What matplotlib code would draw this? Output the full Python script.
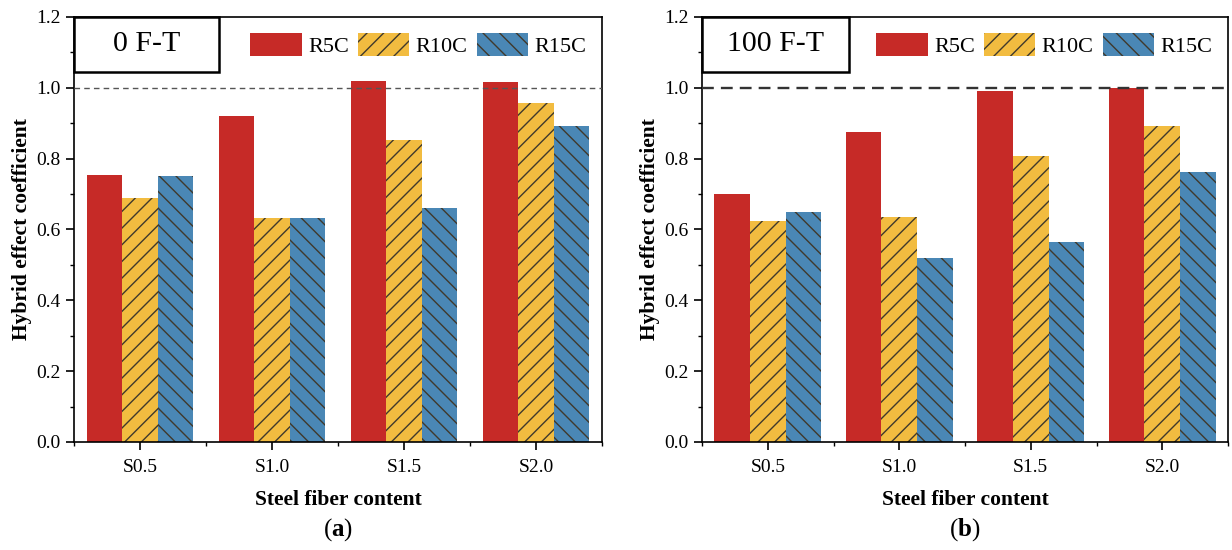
import matplotlib
matplotlib.use('Agg')
import numpy as np
from matplotlib import pyplot as plt
from matplotlib.ticker import MultipleLocator, FixedLocator, FormatStrFormatter
from matplotlib.patches import Rectangle

plt.rcParams['font.family'] = ['Liberation Serif', 'DejaVu Serif']
plt.rcParams['mathtext.fontset'] = 'custom'
plt.rcParams['mathtext.rm'] = 'Liberation Serif'
plt.rcParams['mathtext.bf'] = 'Liberation Serif:bold'
plt.rcParams['hatch.color'] = '#40392c'
plt.rcParams['hatch.linewidth'] = 1.0

# data
categories = ['S0.5', 'S1.0', 'S1.5', 'S2.0']
series = ['R5C', 'R10C', 'R15C']
vals_0ft = {
    'R5C': [0.753, 0.920, 1.020, 1.017],
    'R10C': [0.690, 0.633, 0.853, 0.958],
    'R15C': [0.750, 0.633, 0.662, 0.892],
}
vals_100ft = {
    'R5C': [0.700, 0.876, 0.990, 1.000],
    'R10C': [0.625, 0.635, 0.808, 0.893],
    'R15C': [0.648, 0.520, 0.566, 0.763],
}
titles = ['0 F-T', '100 F-T']
panel_tags = ['a', 'b']

colors = {'R5C': '#c62a27', 'R10C': '#f2bc40', 'R15C': '#4a87b5'}
hatches = {'R5C': None, 'R10C': '//', 'R15C': '\\\\'}

fig = plt.figure(figsize=(12.32, 5.5), dpi=100)
ax1 = fig.add_axes([74/1232, 108/550, 528/1232, 425/550])
ax2 = fig.add_axes([702/1232, 108/550, 526/1232, 425/550])

x = np.arange(len(categories))
w = 0.27
for ax, data, title, tag, boxw in zip([ax1, ax2], [vals_0ft, vals_100ft], titles,
                                      panel_tags, [0.275, 0.28]):
    for i, s in enumerate(series):
        ax.bar(x + (i - 1) * w, data[s], w, color=colors[s], hatch=hatches[s],
               label=s, zorder=2)
    if tag == 'a':
        ax.axhline(1.0, color='#555555', lw=1.0, linestyle=(0, (4, 3)), zorder=3)
    else:
        ax.axhline(1.0, color='#333333', lw=1.7, linestyle=(0, (5, 3)), zorder=3)

    ax.set_xlim(-0.5, 3.5)
    ax.set_ylim(0, 1.2)
    ax.set_xticks(x)
    ax.set_xticklabels(categories)
    ax.xaxis.set_minor_locator(FixedLocator([-0.5, 0.5, 1.5, 2.5, 3.5]))
    ax.yaxis.set_major_locator(MultipleLocator(0.2))
    ax.yaxis.set_minor_locator(MultipleLocator(0.1))
    ax.yaxis.set_major_formatter(FormatStrFormatter('%.1f'))
    ax.tick_params(axis='both', which='major', direction='out', length=6,
                   width=1.2, labelsize=14)
    ax.tick_params(axis='x', which='major', pad=6)
    ax.tick_params(axis='both', which='minor', direction='out', length=3,
                   width=1.0)
    for sp in ax.spines.values():
        sp.set_linewidth(1.2)

    ax.set_xlabel('Steel fiber content', fontsize=15.5, fontweight='bold',
                  labelpad=10)
    ax.set_ylabel('Hybrid effect coefficient', fontsize=15.5, fontweight='bold',
                  labelpad=3)

    # title box in the upper left corner
    boxh = 0.129
    ax.add_patch(Rectangle((0, 1 - boxh), boxw, boxh, transform=ax.transAxes,
                           facecolor='white', edgecolor='black', lw=1.8,
                           zorder=5, clip_on=False))
    ax.text(boxw / 2, 1 - boxh / 2, title, transform=ax.transAxes, fontsize=21.5,
            ha='center', va='center', zorder=6)

    ax.legend(loc='upper right', ncol=3, frameon=False, fontsize=16,
              handlelength=2.3, handleheight=1.25, handletextpad=0.3,
              columnspacing=0.4, borderaxespad=0.3)

    ax.text(0.5, -0.207, r'($\mathbf{' + tag + '}$)',
            transform=ax.transAxes, ha='center', va='center', fontsize=18)

fig.savefig('out.png', dpi=100)
